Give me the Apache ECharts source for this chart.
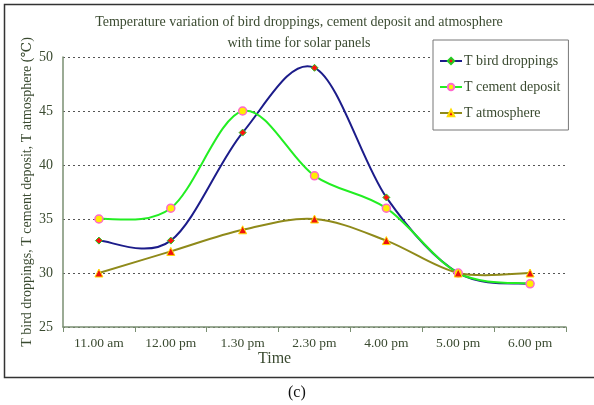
<!DOCTYPE html>
<html><head><meta charset="utf-8">
<script src="https://cdn.jsdelivr.net/npm/echarts@6/dist/echarts.min.js"></script>
<style>html,body{margin:0;padding:0;background:#fff}#c{width:594px;height:405px}</style>
</head><body><div id="c"></div>
<script>
const categories = ['11.00 am','12.00 pm','1.30 pm','2.30 pm','4.00 pm','5.00 pm','6.00 pm'];
const birdDroppings = [33, 33, 43, 49, 37, 30, 29];
const cementDeposit = [35, 36, 45, 39, 36, 30, 29];
const atmosphere = [30, 32, 34, 35, 33, 30, 30];
const seriesNames = ['T bird droppings', 'T cement deposit', 'T atmosphere'];
const yTicks = [25, 30, 35, 40, 45, 50];

const serif = '"Liberation Serif","DejaVu Serif",serif';
const txt = '#3a4a30';
const colors = ['#1c1c8a', '#22ee22', '#8f8a1a'];
const allData = [birdDroppings, cementDeposit, atmosphere];

// Excel-style (Catmull-Rom) smoothed segment through the library's coordinate system
function smoothSeries(k){
  const arr = allData[k];
  return {
    type:'custom', name:'curve' + k, coordinateSystem:'cartesian2d', z:2,
    data: arr.map((v,i)=>[i, v]),
    encode:{x:0, y:1},
    silent:true,
    renderItem:function(params, api){
      const i = params.dataIndex;
      if (i >= arr.length - 1) return null;
      const P = j => { const c = Math.max(0, Math.min(arr.length-1, j)); return api.coord([c, arr[c]]); };
      const p0 = P(i-1), p1 = P(i), p2 = P(i+1), p3 = P(i+2);
      const c1 = [p1[0] + (p2[0]-p0[0])/6, p1[1] + (p2[1]-p0[1])/6];
      const c2 = [p2[0] - (p3[0]-p1[0])/6, p2[1] - (p3[1]-p1[1])/6];
      return {
        type:'bezierCurve',
        shape:{x1:p1[0], y1:p1[1], x2:p2[0], y2:p2[1], cpx1:c1[0], cpy1:c1[1], cpx2:c2[0], cpy2:c2[1]},
        style:{stroke:colors[k], lineWidth:2, fill:null}
      };
    }
  };
}

const chart = echarts.init(document.getElementById('c'), null, {renderer:'canvas'});
chart.setOption({
  animation:false,
  backgroundColor:'#fff',
  title:{
    text:'Temperature variation of bird droppings, cement deposit and atmosphere\nwith time for solar panels',
    left:294, top:7, textAlign:'center',
    textStyle:{fontFamily:serif, fontSize:14, fontWeight:'normal', color:txt, lineHeight:21}
  },
  legend:{
    orient:'vertical', left:433, top:40, width:134,
    padding:[14,8,10,6], itemGap:12, itemWidth:22, itemHeight:8,
    borderColor:'#777', borderWidth:1, backgroundColor:'#fff', z:10,
    textStyle:{fontFamily:serif, fontSize:14, color:txt, padding:[0,0,0,-3]},
    data:seriesNames.map((n,k)=>({name:n, lineStyle:{opacity:1, width:2, color:colors[k]}}))
  },
  grid:{left:63, right:28, top:57, bottom:78},
  xAxis:{
    type:'category', data:categories, boundaryGap:true,
    axisLine:{lineStyle:{color:'#7a8f72', width:1.5}},
    axisTick:{show:true, length:5, lineStyle:{color:'#7a8f72'}},
    axisLabel:{fontFamily:serif, fontSize:13.5, color:txt, margin:9}
  },
  yAxis:{
    type:'value', min:yTicks[0], max:yTicks[yTicks.length-1], interval:5,
    name:'T bird droppings, T cement deposit, T atmosphere (\u2103)',
    nameLocation:'middle', nameGap:29, nameRotate:90, nameMoveOverlap:false,
    nameTextStyle:{fontFamily:serif, fontSize:14, color:txt},
    axisLine:{show:true, lineStyle:{color:'#7a8f72', width:1.5}},
    axisTick:{show:false},
    axisLabel:{fontFamily:serif, fontSize:14, color:txt, margin:10},
    splitLine:{show:true, lineStyle:{color:'#555', type:[2,3], width:1}}
  },
  series:[
    smoothSeries(0), smoothSeries(1), smoothSeries(2),
    {name:seriesNames[0], type:'line', data:birdDroppings, z:3,
     lineStyle:{color:colors[0], width:2, opacity:0}, itemStyle:{color:'#ff1010', borderColor:'#22cc22', borderWidth:1},
     symbol:'diamond', symbolSize:7, color:colors[0]},
    {name:seriesNames[1], type:'line', data:cementDeposit, z:3,
     lineStyle:{color:colors[1], width:2, opacity:0}, itemStyle:{color:'#ffee00', borderColor:'#ff66cc', borderWidth:1.5},
     symbol:'circle', symbolSize:8, color:colors[1]},
    {name:seriesNames[2], type:'line', data:atmosphere, z:3,
     lineStyle:{color:colors[2], width:2, opacity:0}, itemStyle:{color:'#ee1010', borderColor:'#ffdd00', borderWidth:1},
     symbol:'triangle', symbolSize:8, color:colors[2]}
  ],
  graphic:[
    {type:'rect', shape:{x:4.5, y:4.5, width:600, height:373}, style:{fill:null, stroke:'#333', lineWidth:1.5}, silent:true},
    {type:'text', left:258, top:351, style:{text:'Time', font:'16px '+serif, fill:txt}},
    {type:'text', left:288, top:385, style:{text:'(c)', font:'16px '+serif, fill:'#111'}}
  ]
});
</script></body></html>
